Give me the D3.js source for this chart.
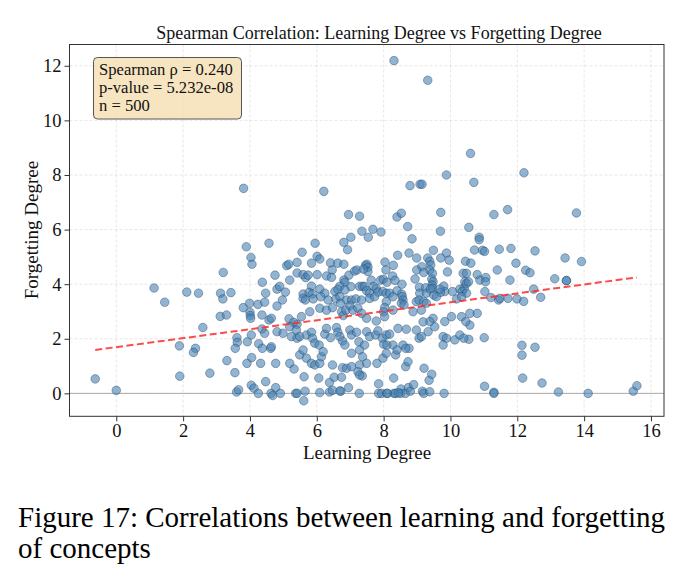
<!DOCTYPE html>
<html><head><meta charset="utf-8">
<script src="https://cdn.jsdelivr.net/npm/d3@7"></script>
<style>
html,body{margin:0;padding:0;background:#fff;}
svg{display:block;font-family:"Liberation Serif","Times New Roman",serif;}
</style></head>
<body><svg id="chart" width="686" height="582"></svg>
<script>
// ---- data ----
const points = [
[8.31,12.19],[9.32,11.47],[10.60,8.79],[12.20,8.08],[9.88,8.00],[10.70,7.73],[8.79,7.61],[9.09,7.66],[9.15,7.66],[3.81,7.51],[6.21,7.40],
[11.30,6.55],[11.71,6.73],[13.77,6.61],[9.71,6.63],[8.40,6.46],[8.53,6.60],[6.95,6.55],[7.28,6.49],[10.55,6.08],[8.72,6.11],[9.70,5.94],
[7.35,5.94],[7.68,6.01],[7.92,5.91],[8.85,5.66],[7.54,5.72],[7.02,5.72],[6.81,5.53],[6.92,5.26],[5.95,5.50],[4.57,5.50],[3.89,5.37],
[4.03,4.98],[4.06,4.73],[5.56,5.17],[6.01,5.02],[6.09,4.92],[8.42,5.06],[8.76,5.14],[8.99,4.96],[9.49,5.24],[9.88,5.14],[9.71,4.96],
[9.96,4.88],[9.32,4.96],[9.38,4.84],[9.41,4.70],[9.38,4.52],[8.04,4.81],[8.07,4.52],[8.29,4.69],[9.14,4.64],[8.99,4.52],[9.20,4.43],
[9.46,4.40],[9.91,4.45],[10.45,4.84],[10.38,4.40],[10.48,4.40],[5.10,4.68],[5.16,4.73],[5.41,4.80],[5.84,4.77],[6.41,4.78],[6.63,4.77],
[6.81,4.73],[6.46,4.52],[4.75,4.33],[5.41,4.41],[5.59,4.35],[5.67,4.24],[5.74,4.33],[6.01,4.35],[6.29,4.30],[6.44,4.25],[5.19,4.15],
[5.84,3.93],[6.96,4.33],[7.13,4.48],[7.20,4.52],[7.46,4.69],[7.50,4.73],[7.53,4.62],[7.53,4.46],[7.40,4.55],[6.81,4.15],[6.84,4.07],
[6.69,3.92],[7.02,3.91],[7.28,3.92],[7.37,3.92],[7.43,3.92],[7.63,4.15],[7.70,3.92],[7.91,4.15],[7.99,4.18],[8.10,4.07],[8.27,4.30],
[8.34,4.14],[8.55,4.00],[8.94,4.19],[9.07,3.89],[9.44,4.19],[9.48,4.09],[9.45,3.97],[9.46,3.85],[9.26,3.87],[9.80,3.93],[9.83,3.73],
[10.28,3.82],[10.41,3.85],[10.43,4.09],[10.48,4.03],[10.54,4.09],[4.81,3.82],[4.89,3.92],[5.06,3.71],[5.59,3.64],[5.77,3.70],[5.87,3.64],
[6.09,3.82],[6.24,3.67],[6.54,3.73],[6.63,3.81],[6.84,3.79],[7.49,3.76],[7.58,3.67],[7.78,3.85],[7.83,3.71],[7.98,3.73],[8.08,3.67],
[8.18,3.67],[8.40,3.76],[8.54,3.64],[9.08,3.67],[9.28,3.67],[9.40,3.82],[9.70,3.70],[9.68,3.82],[10.06,3.73],[10.35,3.73],[10.48,3.67],
[10.86,5.72],[10.86,5.63],[10.72,5.25],[10.96,5.24],[11.02,5.20],[11.46,5.28],[11.81,5.31],[12.53,5.22],[10.61,4.77],[11.96,4.77],
[13.43,4.96],[13.92,4.83],[11.40,4.52],[12.25,4.51],[12.38,4.42],[10.80,4.35],[10.88,4.15],[11.06,4.24],[11.05,4.09],[11.78,4.15],
[13.12,4.20],[13.47,4.13],[13.47,4.13],[11.03,3.73],[12.49,3.82],[11.21,3.51],[11.44,3.42],[11.48,3.48],[11.72,3.48],[11.99,3.46],
[12.19,3.37],[12.70,3.52],[10.80,2.93],[10.58,2.93],[10.58,2.50],[10.55,1.98],[11.01,2.04],[12.14,1.76],[12.14,1.40],[12.53,1.69],
[12.16,0.56],[12.74,0.38],[11.02,0.26],[11.30,0.04],[11.30,0.00],[13.23,0.05],[14.12,0.00],[15.47,0.08],[15.58,0.28],
[1.13,3.86],[2.11,3.71],[2.46,3.67],[3.12,3.67],[3.43,3.69],[4.47,3.67],[3.20,4.43],[4.37,4.07],[1.45,3.34],[2.59,2.41],[1.89,1.74],
[2.37,1.65],[2.31,1.50],[1.90,0.63],[2.80,0.74],[-0.63,0.53],[0.00,0.11],[3.31,1.20],[3.55,0.76],[3.60,0.05],[3.66,0.13],[3.11,2.82],
[3.30,2.87],[3.80,3.14],[3.99,3.30],[4.00,2.97],[4.01,2.85],[4.02,2.75],[4.24,3.26],[4.44,3.34],[4.36,2.87],[4.57,2.69],[3.61,2.04],
[3.62,1.87],[3.56,1.65],[3.92,1.89],[4.04,2.14],[4.36,2.36],[4.44,2.20],[4.26,1.82],[4.37,1.65],[4.62,1.65],[4.05,1.31],[3.91,1.10],
[4.32,1.10],[4.47,0.43],[4.04,0.30],[4.12,0.19],[4.25,0.00],[3.19,3.46],
[4.63,0.00],[4.68,-0.08],[4.77,0.21],[4.91,0.00],[5.37,0.00],[5.41,0.00],[5.65,0.08],[5.61,-0.27],[6.06,0.56],[6.09,0.03],[6.38,0.05],
[6.38,0.40],[6.47,0.11],[6.52,0.59],[6.72,0.08],[6.74,0.59],[6.95,0.21],[7.27,0.00],[7.36,0.64],[7.85,0.35],[7.85,0.00],[7.94,0.00],
[8.09,0.00],[8.12,0.00],[8.30,0.56],[8.31,0.00],[8.36,0.00],[8.52,0.16],[8.51,0.00],[8.65,0.00],[8.74,0.21],[8.80,0.08],[8.90,0.32],
[9.16,0.08],[9.20,0.00],[9.36,0.48],[9.38,0.06],[9.81,0.00],[6.69,0.09],[8.44,0.02],[5.62,0.61],[9.44,0.70],[9.21,0.92],
[4.97,3.42],[4.81,3.20],[5.59,3.48],[5.66,3.42],[5.89,3.46],[6.12,3.54],[6.34,3.42],[6.57,3.46],[6.69,3.54],[6.89,3.42],[7.04,3.42],
[7.17,3.46],[7.34,3.42],[7.58,3.48],[7.73,3.54],[8.08,3.36],[8.28,3.54],[8.56,3.54],[8.58,3.42],[8.98,3.36],[9.06,3.42],[9.20,3.36],
[9.28,3.30],[9.50,3.60],[9.58,3.54],[10.18,3.46],[10.33,3.54],[4.64,2.75],[5.17,2.73],[5.31,2.60],[5.41,2.53],[5.54,2.81],[5.79,2.99],
[6.09,3.12],[6.29,3.05],[6.47,3.14],[6.71,3.30],[6.74,2.99],[6.79,2.85],[6.87,3.05],[6.99,3.21],[7.08,3.05],[7.23,3.12],[7.34,2.93],
[7.49,2.75],[7.78,2.65],[8.03,3.14],[8.00,2.99],[8.03,2.81],[8.28,3.05],[8.53,3.30],[8.61,3.24],[8.88,2.99],[9.13,3.05],[9.48,2.75],
[9.53,2.44],[8.43,2.38],[8.68,2.35],[8.98,2.32],[9.83,2.63],[10.03,2.81],[10.33,2.81],[10.46,2.63],[9.38,2.63],[9.18,2.62],[4.81,2.26],
[4.99,2.20],[5.19,2.44],[5.24,2.08],[5.39,2.32],[5.41,2.02],[5.49,2.08],[5.69,2.14],[5.84,2.24],[5.87,2.02],[5.94,1.84],[6.07,1.77],
[6.24,2.17],[6.29,2.38],[6.41,2.04],[6.59,2.41],[6.63,2.24],[6.69,2.08],[6.77,1.92],[6.84,1.77],[6.99,2.32],[7.04,2.14],[7.19,2.24],
[7.26,1.89],[7.49,2.26],[7.58,2.08],[7.76,2.14],[7.43,1.77],[7.83,2.29],[7.96,2.02],[8.08,2.14],[8.18,2.17],[8.00,1.80],[8.10,1.77],
[8.28,1.77],[8.58,1.77],[8.76,1.65],[9.06,2.02],[9.13,2.08],[9.33,2.26],[9.78,2.08],[9.88,2.02],[10.13,1.96],[10.28,2.14],[10.40,2.02],
[9.78,1.77],[4.64,1.71],[5.49,1.41],[5.59,1.59],[5.69,1.29],[5.84,1.10],[5.94,1.04],[6.09,1.10],[6.14,1.34],[6.19,1.53],[6.47,1.04],
[6.77,0.94],[6.89,0.92],[7.04,0.98],[7.04,1.47],[7.28,1.59],[7.37,1.34],[7.49,1.10],[7.28,1.04],[7.23,0.79],[7.28,0.67],[7.80,1.10],
[7.98,1.29],[8.08,1.47],[8.36,1.41],[8.40,1.59],[8.66,0.98],[8.73,1.16],[8.66,1.65],[4.77,1.10],[5.19,1.10],[5.32,0.89]
];
const learning = points.map(p => p[0]);
const forgetting = points.map(p => p[1]);
const xTicks = [0, 2, 4, 6, 8, 10, 12, 14, 16];
const yTicks = [0, 2, 4, 6, 8, 10, 12];
const trendSlope = 0.164;
const trendIntercept = 1.694;
const statsLines = ["Spearman \u03c1 = 0.240", "p-value = 5.232e-08", "n = 500"];
const titleText = "Spearman Correlation: Learning Degree vs Forgetting Degree";
const xLabel = "Learning Degree";
const yLabel = "Forgetting Degree";
const captionLines = ["Figure 17: Correlations between learning and forgetting", "of concepts"];

// ---- layout ----
const svg = d3.select("#chart");
const L = 69.5, R = 664, T = 44.5, B = 416.3;
const x = d3.scaleLinear().domain([-1.40, 16.39]).range([L, R]);
const y = d3.scaleLinear().domain([-0.84, 12.78]).range([B, T]);

// grid
const grid = svg.append("g");
grid.selectAll("line.gx").data(xTicks).join("line")
  .attr("x1", d => x(d)).attr("x2", d => x(d)).attr("y1", T).attr("y2", B)
  .attr("stroke", "#c8c8c8").attr("stroke-opacity", 0.55).attr("stroke-width", 0.8).attr("stroke-dasharray", "3,2");
grid.selectAll("line.gy").data(yTicks).join("line")
  .attr("y1", d => y(d)).attr("y2", d => y(d)).attr("x1", L).attr("x2", R)
  .attr("stroke", "#c8c8c8").attr("stroke-opacity", 0.55).attr("stroke-width", 0.8).attr("stroke-dasharray", "3,2");

// zero line
svg.append("line").attr("x1", L).attr("x2", R).attr("y1", y(0)).attr("y2", y(0))
  .attr("stroke", "#999").attr("stroke-opacity", 0.8).attr("stroke-width", 1);

// points
svg.append("g").selectAll("circle").data(points).join("circle")
  .attr("cx", d => x(d[0])).attr("cy", d => y(d[1])).attr("r", 4.3)
  .attr("fill", "steelblue").attr("fill-opacity", 0.6)
  .attr("stroke", "#1d3957").attr("stroke-opacity", 0.55).attr("stroke-width", 0.7);

// trend line
const ext = d3.extent(learning);
svg.append("line")
  .attr("x1", x(ext[0])).attr("y1", y(trendIntercept + trendSlope * ext[0]))
  .attr("x2", x(ext[1])).attr("y2", y(trendIntercept + trendSlope * ext[1]))
  .attr("stroke", "#ff2a2a").attr("stroke-opacity", 0.85).attr("stroke-width", 2)
  .attr("stroke-dasharray", "7,3.5");

// frame
svg.append("rect").attr("x", L).attr("y", T).attr("width", R - L).attr("height", B - T)
  .attr("fill", "none").attr("stroke", "#333").attr("stroke-width", 1);

// axes
const xAxis = svg.append("g").attr("transform", `translate(0,${B})`)
  .call(d3.axisBottom(x).tickValues(xTicks).tickFormat(d3.format("d")).tickSize(5).tickPadding(3));
const yAxis = svg.append("g").attr("transform", `translate(${L},0)`)
  .call(d3.axisLeft(y).tickValues(yTicks).tickFormat(d3.format("d")).tickSize(5).tickPadding(3));
[xAxis, yAxis].forEach(a => {
  a.select(".domain").remove();
  a.selectAll(".tick line").attr("stroke", "#333");
  a.selectAll(".tick text").attr("font-family", "Liberation Serif").attr("font-size", 18.5).attr("fill", "#111");
});

// stats box
const box = svg.append("g");
box.append("rect").attr("x", 93.5).attr("y", 57.5).attr("width", 148).attr("height", 61.5).attr("rx", 4)
  .attr("fill", "#f5deb3").attr("fill-opacity", 0.8).attr("stroke", "#555").attr("stroke-width", 1);
box.selectAll("text").data(statsLines).join("text")
  .attr("x", 99).attr("y", (d, i) => 74.5 + i * 18)
  .attr("font-size", 16.6).attr("fill", "#111").text(d => d);

// title and labels
svg.append("text").attr("x", 379).attr("y", 39).attr("text-anchor", "middle")
  .attr("font-size", 18).attr("fill", "#111").text(titleText);
svg.append("text").attr("x", 367).attr("y", 459).attr("text-anchor", "middle")
  .attr("font-size", 19).attr("fill", "#111").text(xLabel);
svg.append("text").attr("transform", `translate(38,230) rotate(-90)`).attr("text-anchor", "middle")
  .attr("font-size", 19).attr("fill", "#111").text(yLabel);

// caption
svg.selectAll("text.cap").data(captionLines).join("text").attr("class", "cap")
  .attr("x", 18).attr("y", (d, i) => 527 + i * 31)
  .attr("font-size", 29).attr("fill", "#000").text(d => d);
</script></body></html>
